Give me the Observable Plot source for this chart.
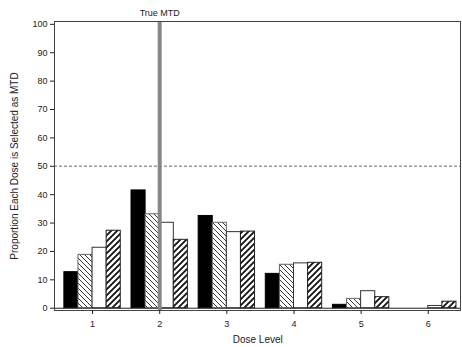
<!DOCTYPE html>
<html><head><meta charset="utf-8">
<script src="https://cdn.jsdelivr.net/npm/d3@7"></script>
<script src="https://cdn.jsdelivr.net/npm/@observablehq/plot@0.6"></script>
<style>body{margin:0;background:#fff}svg{display:block}</style>
</head><body><div id="chart"></div>
<script>
const doses = [1, 2, 3, 4, 5, 6];
const seriesNames = ["Design A", "Design B", "Design C", "Design D"];
const valuesA = [12.7, 41.5, 32.5, 12.1, 1.2, 0];
const valuesB = [18.8, 33.1, 30.1, 15.3, 3.3, 0];
const valuesC = [21.3, 30.1, 26.8, 15.8, 6.0, 0.8];
const valuesD = [27.3, 24.1, 27.0, 16.0, 3.9, 2.3];
const yTicks = [0, 10, 20, 30, 40, 50, 60, 70, 80, 90, 100];
const trueMTD = 2;
const refLine = 50;

const allValues = [valuesA, valuesB, valuesC, valuesD];
const fills = ["black", "url(#hatchBack)", "white", "url(#hatchFwd)"];
const strokes = ["black", "#666", "#333", "#222"];
const groupHalf = 0.42, barW = 0.21;

const bars = allValues.map((vals, k) => {
  const data = doses.map((d, i) => ({dose: d, value: vals[i], series: seriesNames[k]}));
  return Plot.rect(data, {
    x1: d => d.dose - groupHalf + k * barW,
    x2: d => d.dose - groupHalf + (k + 1) * barW,
    y1: 0, y2: "value",
    fill: fills[k], stroke: strokes[k], strokeWidth: 1,
    inset: 0
  });
});

const font = "Liberation Sans, Arial, sans-serif";
const chart = Plot.plot({
  width: 462, height: 347,
  marginLeft: 54, marginRight: 2, marginTop: 21, marginBottom: 37,
  style: {fontFamily: font, fontSize: "9px", color: "#222", background: "white"},
  x: {type: "linear", domain: [0.433, 6.48]},
  y: {domain: [-0.8, 101]},
  marks: [
    Plot.ruleY([refLine], {stroke: "#999", strokeWidth: 1.5, strokeDasharray: "3,2"}),
    ...bars,
    Plot.ruleY([0], {stroke: "#222", strokeWidth: 1}),
    Plot.ruleX([trueMTD], {stroke: "#888", strokeWidth: 4}),
    Plot.text([trueMTD], {x: d => d, frameAnchor: "top", lineAnchor: "middle", dy: -8, text: () => "True MTD", fontSize: 9, fill: "#222"}),
    Plot.frame({stroke: "#444", strokeWidth: 1}),
    Plot.axisY(yTicks, {tickSize: 4, tickPadding: 3, label: null, fontSize: 9}),
    Plot.axisX(doses, {tickSize: 4, tickPadding: 6, label: null, tickFormat: d => String(d), fontSize: 9}),
    Plot.text(["Dose Level"], {frameAnchor: "bottom", lineAnchor: "middle", dy: 29, x: 3.46, fontSize: 10, fill: "#222"}),
    Plot.text(["Proportion Each Dose is Selected as MTD"], {frameAnchor: "left", textAnchor: "middle", lineAnchor: "middle", dx: -40, rotate: -90, fontSize: 10, fill: "#222"})
  ]
});

const defs = document.createElementNS("http://www.w3.org/2000/svg", "defs");
defs.innerHTML = `
<pattern id="hatchBack" patternUnits="userSpaceOnUse" width="5" height="5">
  <rect width="5" height="5" fill="white"/>
  <path d="M-1,-1 L6,6 M-1,4 L1,6 M4,-1 L6,1" stroke="#222" stroke-width="0.9"/>
</pattern>
<pattern id="hatchFwd" patternUnits="userSpaceOnUse" width="6" height="6">
  <rect width="6" height="6" fill="white"/>
  <path d="M-1,7 L7,-1 M-1,1 L1,-1 M5,7 L7,5" stroke="#111" stroke-width="1.8"/>
</pattern>`;
chart.insertBefore(defs, chart.firstChild);
document.getElementById("chart").appendChild(chart);
</script>
</body></html>
